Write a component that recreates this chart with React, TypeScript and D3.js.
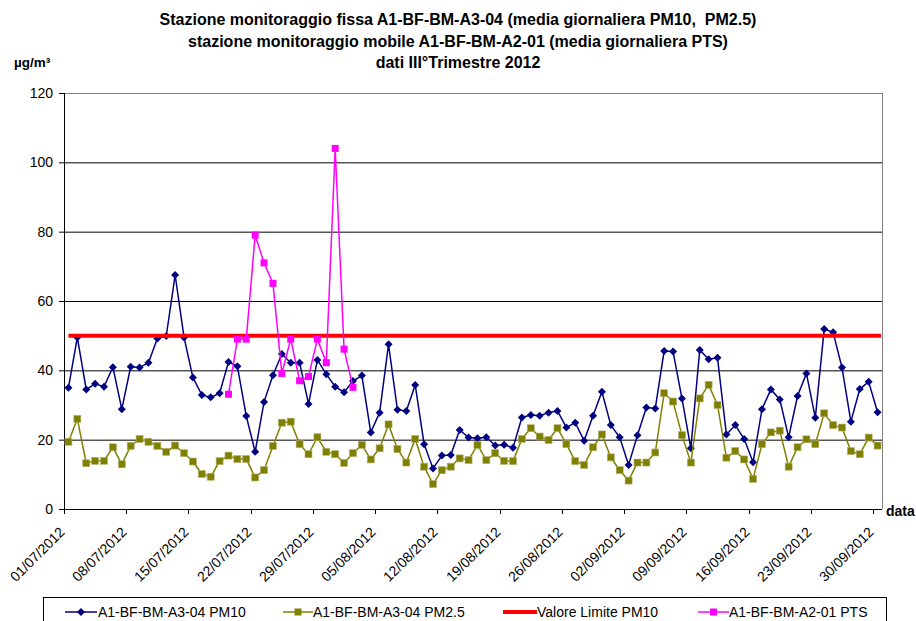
import React from "react";
import * as d3 from "d3";

const startDate = new Date(Date.UTC(2012, 6, 1));
const endDate = new Date(Date.UTC(2012, 9, 1));

const pm10: number[] = [
  35.0, 49.5, 34.5, 36.1, 35.3, 40.9, 28.8, 41.0, 40.8, 42.2,
  49.2, 49.9, 67.5, 49.5, 37.9, 32.9, 32.2, 33.4, 42.4, 41.2,
  26.8, 16.5, 30.9, 38.6, 44.7, 42.2, 42.2, 30.3, 43.0, 38.9,
  35.3, 33.7, 36.9, 38.5, 22.1, 27.8, 47.5, 28.6, 28.3, 35.8,
  18.7, 11.7, 15.4, 15.6, 22.8, 20.6, 20.4, 20.7, 18.3, 18.5,
  17.7, 26.4, 27.1, 26.9, 27.8, 28.3, 23.5, 24.9, 19.7, 26.9,
  33.8, 24.2, 20.7, 12.7, 21.3, 29.3, 29.0, 45.6, 45.4, 31.9,
  17.5, 45.9, 43.2, 43.6, 21.5, 24.2, 20.2, 13.5, 28.8, 34.5,
  31.6, 20.7, 32.6, 39.1, 26.3, 51.9, 51.0, 40.8, 25.2, 34.6,
  36.7, 27.9,
];

const pm25: number[] = [
  19.4, 26.0, 13.2, 13.9, 13.9, 17.8, 12.9, 18.2, 20.2, 19.4,
  18.2, 16.5, 18.3, 16.1, 13.7, 10.1, 9.3, 13.8, 15.4, 14.4,
  14.4, 9.1, 11.2, 18.2, 24.9, 25.2, 18.7, 15.8, 20.7, 16.5,
  15.8, 13.3, 16.1, 18.5, 14.3, 17.5, 24.4, 17.3, 13.4, 20.2,
  12.2, 7.2, 11.2, 12.2, 14.6, 14.1, 18.5, 14.1, 16.1, 13.9,
  13.8, 20.2, 23.3, 20.9, 19.9, 23.3, 18.7, 13.8, 12.7, 17.8,
  21.5, 14.9, 11.2, 8.2, 13.4, 13.4, 16.3, 33.4, 31.0, 21.3,
  13.4, 31.9, 35.8, 30.0, 14.8, 16.7, 14.3, 8.7, 18.7, 22.1,
  22.6, 12.2, 17.8, 20.1, 18.7, 27.6, 24.2, 23.5, 16.7, 15.8,
  20.6, 18.3,
];

const ptsStartIndex = 18;
const pts: number[] = [33.1, 49.0, 49.0, 79.0, 71.0, 65.1, 39.1, 49.0, 37.0, 38.2, 49.0, 42.2, 104.0, 46.1, 35.1];

const limitValue = 50;
const yTicks: number[] = [0, 20, 40, 60, 80, 100, 120];
const xTickStepDays = 7;

const titleLines: string[] = [
  "Stazione monitoraggio fissa A1-BF-BM-A3-04 (media giornaliera PM10,  PM2.5)",
  "stazione monitoraggio mobile A1-BF-BM-A2-01 (media giornaliera PTS)",
  "dati III°Trimestre 2012",
];

const legendLabels: string[] = [
  "A1-BF-BM-A3-04 PM10",
  "A1-BF-BM-A3-04 PM2.5",
  "Valore Limite PM10",
  "A1-BF-BM-A2-01 PTS",
];

const NAVY = "#000080";
const OLIVE = "#808000";
const RED = "#FF0000";
const MAGENTA = "#FF00FF";
const FONT = "Arial, 'Liberation Sans', sans-serif";

const dayDate = (i: number) => d3.utcHour.offset(d3.utcDay.offset(startDate, i), 12);

export default function App() {
  const W = 916, H = 621;
  const L = 64, R = 882, T = 93, B = 509;
  const x = d3.scaleUtc().domain([startDate, endDate]).range([L, R]);
  const y = d3.scaleLinear().domain([0, 120]).range([B, T]);
  const fmt = d3.utcFormat("%d/%m/%Y");
  const nDays = d3.utcDay.count(startDate, endDate);
  const xTicks = d3.range(0, nDays, xTickStepDays).map((i) => d3.utcDay.offset(startDate, i));

  const line = d3
    .line<{ i: number; v: number }>()
    .x((d) => x(dayDate(d.i)))
    .y((d) => y(d.v));

  const pm10Data = pm10.map((v, i) => ({ i, v }));
  const pm25Data = pm25.map((v, i) => ({ i, v }));
  const ptsData = pts.map((v, k) => ({ i: ptsStartIndex + k, v }));

  const diamond = (cx: number, cy: number, r: number) =>
    `M${cx},${cy - r}L${cx + r},${cy}L${cx},${cy + r}L${cx - r},${cy}Z`;

  const legendY = 612;
  const legendItems = [
    { x0: 65, x1: 97, tx: 98, color: NAVY, marker: "diamond", w: 1.5 },
    { x0: 283, x1: 313, tx: 313, color: OLIVE, marker: "square", w: 1.5 },
    { x0: 503, x1: 537, tx: 537, color: RED, marker: "none", w: 4 },
    { x0: 698, x1: 729, tx: 729, color: MAGENTA, marker: "square", w: 1.5 },
  ];

  return (
    <svg
      width={W}
      height={H}
      style={{ position: "absolute", left: 0, top: 0, display: "block", background: "#fff" }}
      fontFamily={FONT}
    >
      <rect x={0} y={0} width={W} height={H} fill="#fff" />
      {/* title */}
      {titleLines.map((t, k) => (
        <text
          key={k}
          x={458}
          y={25 + k * 21.5}
          textAnchor="middle"
          fontWeight="bold"
          fontSize={16}
          style={{ whiteSpace: "pre" }}
        >
          {t}
        </text>
      ))}
      <text x={14} y={67} fontWeight="bold" fontSize={13.5}>
        µg/m³
      </text>

      {/* gridlines */}
      {yTicks.filter((t) => t > 0).map((t) => (
        <line key={t} x1={L} x2={R} y1={y(t) + 0.5} y2={y(t) + 0.5} stroke={t === 120 ? "#808080" : "#000"} strokeWidth={1} />
      ))}
      <line x1={R + 0.5} x2={R + 0.5} y1={T} y2={B} stroke="#808080" strokeWidth={1} />

      {/* y axis */}
      <line x1={L + 0.5} x2={L + 0.5} y1={T} y2={B} stroke="#000" strokeWidth={1} />
      {yTicks.map((t) => (
        <g key={t}>
          <line x1={L - 5} x2={L} y1={y(t) + 0.5} y2={y(t) + 0.5} stroke="#000" />
          <text x={53} y={y(t) + 5} textAnchor="end" fontSize={14}>
            {t}
          </text>
        </g>
      ))}

      {/* x axis */}
      <line x1={L} x2={R} y1={B + 0.5} y2={B + 0.5} stroke="#000" strokeWidth={1} />
      {xTicks.map((d, k) => {
        const tx = Math.round(x(d)) + 0.5;
        return (
          <g key={k}>
            <line x1={tx} x2={tx} y1={B} y2={B + 5} stroke="#000" />
            <text transform={`translate(${tx + 1},533) rotate(-45)`} textAnchor="end" fontSize={14}>
              {fmt(d)}
            </text>
          </g>
        );
      })}
      <text x={886} y={516} fontWeight="bold" fontSize={14}>
        data
      </text>

      {/* series */}
      <path d={line(pm10Data) || ""} fill="none" stroke={NAVY} strokeWidth={1.5} />
      {pm10Data.map((d) => (
        <path key={d.i} d={diamond(x(dayDate(d.i)), y(d.v), 4)} fill={NAVY} />
      ))}
      <path d={line(pm25Data) || ""} fill="none" stroke={OLIVE} strokeWidth={1.5} />
      {pm25Data.map((d) => (
        <rect key={d.i} x={x(dayDate(d.i)) - 3.5} y={y(d.v) - 3.5} width={7} height={7} fill={OLIVE} stroke="#b0b070" strokeWidth={0.6} />
      ))}
      <path
        d={`M${x(dayDate(0))},${y(limitValue)}L${R - 1},${y(limitValue)}`}
        fill="none"
        stroke={RED}
        strokeWidth={4}
      />
      <path d={line(ptsData) || ""} fill="none" stroke={MAGENTA} strokeWidth={1.5} />
      {ptsData.map((d) => (
        <rect key={d.i} x={x(dayDate(d.i)) - 3.5} y={y(d.v) - 3.5} width={7} height={7} fill={MAGENTA} />
      ))}

      {/* legend */}
      <rect x={43.5} y={597.5} width={843} height={40} fill="#fff" stroke="#000" strokeWidth={1} />
      {legendItems.map((it, k) => {
        const cx = (it.x0 + it.x1) / 2;
        return (
          <g key={k}>
            <line x1={it.x0} x2={it.x1} y1={legendY} y2={legendY} stroke={it.color} strokeWidth={it.w} />
            {it.marker === "diamond" && <path d={diamond(cx, legendY, 4)} fill={it.color} />}
            {it.marker === "square" && (
              <rect x={cx - 3.5} y={legendY - 3.5} width={7} height={7} fill={it.color} />
            )}
            <text x={it.tx} y={legendY + 5} fontSize={14}>
              {legendLabels[k]}
            </text>
          </g>
        );
      })}
    </svg>
  );
}
